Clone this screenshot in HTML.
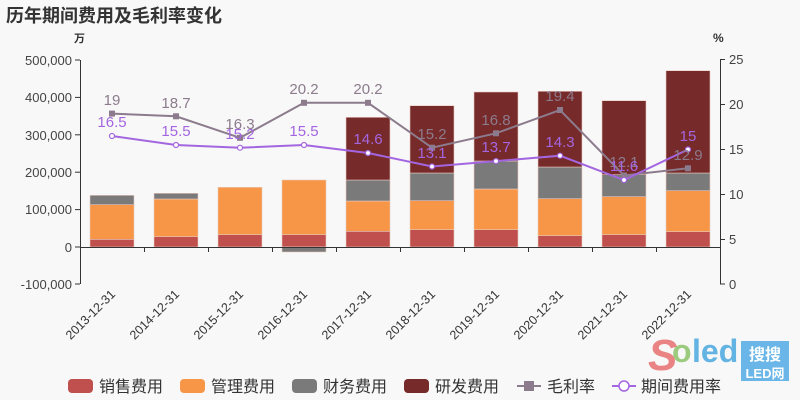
<!DOCTYPE html>
<html><head><meta charset="utf-8"><style>
html,body{margin:0;padding:0;background:#f8f8f8}
svg{display:block;font-family:"Liberation Sans","Noto Sans CJK SC",sans-serif}
</style></head><body>
<svg width="800" height="400" viewBox="0 0 800 400">
<rect width="800" height="400" fill="#f8f8f8"/>
<text x="6" y="22" font-size="18" font-weight="bold" fill="#333">历年期间费用及毛利率变化</text>
<text x="74" y="42" font-size="11" font-weight="bold" fill="#333">万</text>
<text x="713" y="42" font-size="12" font-weight="bold" fill="#333">%</text>
<!-- left axis -->
<g stroke="#333" stroke-width="1" fill="none">
<line x1="80.5" y1="60" x2="80.5" y2="284"/>
<line x1="75" y1="60" x2="80" y2="60"/><line x1="75" y1="97.4" x2="80" y2="97.4"/><line x1="75" y1="134.8" x2="80" y2="134.8"/><line x1="75" y1="172.2" x2="80" y2="172.2"/><line x1="75" y1="209.6" x2="80" y2="209.6"/><line x1="75" y1="247" x2="80" y2="247"/><line x1="75" y1="284" x2="80" y2="284"/>
<line x1="720.5" y1="59" x2="720.5" y2="284"/>
<line x1="720" y1="59.5" x2="725" y2="59.5"/><line x1="720" y1="104.5" x2="725" y2="104.5"/><line x1="720" y1="149.5" x2="725" y2="149.5"/><line x1="720" y1="194.5" x2="725" y2="194.5"/><line x1="720" y1="239.5" x2="725" y2="239.5"/><line x1="720" y1="284" x2="725" y2="284"/>
</g>
<g font-size="13" fill="#444" text-anchor="end">
<text x="72" y="65">500,000</text><text x="72" y="102">400,000</text><text x="72" y="140">300,000</text><text x="72" y="177">200,000</text><text x="72" y="214">100,000</text><text x="72" y="252">0</text><text x="72" y="289">-100,000</text>
</g>
<g font-size="13" fill="#444">
<text x="729" y="64">25</text><text x="729" y="109">20</text><text x="729" y="154">15</text><text x="729" y="199">10</text><text x="729" y="244">5</text><text x="729" y="289">0</text>
</g>
<!-- bars -->
<g stroke="#e8c8c0" stroke-width="0.6">
<!-- 1 -->
<rect x="90" y="239.3" width="44" height="7.7" fill="#c0504d"/><rect x="90" y="204.7" width="44" height="34.6" fill="#f79646"/><rect x="90" y="195.3" width="44" height="9.4" fill="#7a7a7a"/>
<rect x="154" y="236.7" width="44" height="10.3" fill="#c0504d"/><rect x="154" y="199" width="44" height="37.7" fill="#f79646"/><rect x="154" y="193.3" width="44" height="5.7" fill="#7a7a7a"/>
<rect x="218" y="234.7" width="44" height="12.3" fill="#c0504d"/><rect x="218" y="187.3" width="44" height="47.4" fill="#f79646"/>
<rect x="282" y="234.7" width="44" height="12.3" fill="#c0504d"/><rect x="282" y="180" width="44" height="54.7" fill="#f79646"/><rect x="282" y="247" width="44" height="5" fill="#7a7a7a"/>
<rect x="346" y="231.3" width="44" height="15.7" fill="#c0504d"/><rect x="346" y="201" width="44" height="30.3" fill="#f79646"/><rect x="346" y="180" width="44" height="21" fill="#7a7a7a"/><rect x="346" y="117.3" width="44" height="62.7" fill="#772a2a"/>
<rect x="410" y="229.7" width="44" height="17.3" fill="#c0504d"/><rect x="410" y="200.7" width="44" height="29" fill="#f79646"/><rect x="410" y="173" width="44" height="27.7" fill="#7a7a7a"/><rect x="410" y="105.7" width="44" height="67.3" fill="#772a2a"/>
<rect x="474" y="229.7" width="44" height="17.3" fill="#c0504d"/><rect x="474" y="189" width="44" height="40.7" fill="#f79646"/><rect x="474" y="161" width="44" height="28" fill="#7a7a7a"/><rect x="474" y="92" width="44" height="69" fill="#772a2a"/>
<rect x="538" y="235.7" width="44" height="11.3" fill="#c0504d"/><rect x="538" y="198.7" width="44" height="37" fill="#f79646"/><rect x="538" y="167" width="44" height="31.7" fill="#7a7a7a"/><rect x="538" y="91.3" width="44" height="75.7" fill="#772a2a"/>
<rect x="602" y="234.7" width="44" height="12.3" fill="#c0504d"/><rect x="602" y="196.7" width="44" height="38" fill="#f79646"/><rect x="602" y="174.7" width="44" height="22" fill="#7a7a7a"/><rect x="602" y="100.7" width="44" height="74" fill="#772a2a"/>
<rect x="666" y="231.7" width="44" height="15.3" fill="#c0504d"/><rect x="666" y="190.7" width="44" height="41" fill="#f79646"/><rect x="666" y="173" width="44" height="17.7" fill="#7a7a7a"/><rect x="666" y="70.7" width="44" height="102.3" fill="#772a2a"/>
</g>
<!-- zero line + ticks -->
<g stroke="#333" stroke-width="1">
<line x1="80" y1="247.5" x2="720" y2="247.5"/>
<line x1="144.5" y1="247" x2="144.5" y2="252"/><line x1="208.5" y1="247" x2="208.5" y2="252"/><line x1="272.5" y1="247" x2="272.5" y2="252"/><line x1="336.5" y1="247" x2="336.5" y2="252"/><line x1="400.5" y1="247" x2="400.5" y2="252"/><line x1="464.5" y1="247" x2="464.5" y2="252"/><line x1="528.5" y1="247" x2="528.5" y2="252"/><line x1="592.5" y1="247" x2="592.5" y2="252"/><line x1="656.5" y1="247" x2="656.5" y2="252"/>
</g>
<!-- lines -->
<polyline fill="none" stroke="#8c7b8c" stroke-width="2" points="112,113.6 176,116.3 240,137.8 304,102.8 368,102.8 432,147.7 496,133.3 560,110 624,175.5 688,168.3"/>
<g fill="#8c7b8c">
<rect x="109" y="110.6" width="6" height="6"/><rect x="173" y="113.3" width="6" height="6"/><rect x="237" y="134.8" width="6" height="6"/><rect x="301" y="99.8" width="6" height="6"/><rect x="365" y="99.8" width="6" height="6"/><rect x="429" y="144.7" width="6" height="6"/><rect x="493" y="130.3" width="6" height="6"/><rect x="557" y="107" width="6" height="6"/><rect x="621" y="172.5" width="6" height="6"/><rect x="685" y="165.3" width="6" height="6"/>
</g>
<polyline fill="none" stroke="#a366e0" stroke-width="2" points="112,136 176,145 240,147.7 304,145 368,153 432,166.5 496,161.1 560,155.7 624,180 688,149.5"/>
<g fill="#fff" stroke="#a366e0" stroke-width="1.2">
<circle cx="112" cy="136" r="2.5"/><circle cx="176" cy="145" r="2.5"/><circle cx="240" cy="147.7" r="2.5"/><circle cx="304" cy="145" r="2.5"/><circle cx="368" cy="153" r="2.5"/><circle cx="432" cy="166.5" r="2.5"/><circle cx="496" cy="161.1" r="2.5"/><circle cx="560" cy="155.7" r="2.5"/><circle cx="624" cy="180" r="2.5"/><circle cx="688" cy="149.5" r="2.5"/>
</g>
<g font-size="15" fill="#8c7b8c" text-anchor="middle">
<text x="112" y="105">19</text><text x="176" y="108">18.7</text><text x="240" y="129">16.3</text><text x="304" y="94">20.2</text><text x="368" y="94">20.2</text><text x="432" y="139">15.2</text><text x="496" y="125">16.8</text><text x="560" y="101">19.4</text><text x="624" y="167">12.1</text><text x="688" y="160">12.9</text>
</g>
<g font-size="15" fill="#a366e0" text-anchor="middle">
<text x="112" y="127">16.5</text><text x="176" y="136">15.5</text><text x="240" y="139">15.2</text><text x="304" y="136">15.5</text><text x="368" y="144">14.6</text><text x="432" y="158">13.1</text><text x="496" y="152">13.7</text><text x="560" y="147">14.3</text><text x="624" y="171">11.6</text><text x="688" y="141">15</text>
</g>
<!-- x labels -->
<g font-size="12.5" fill="#333" text-anchor="end">
<text transform="translate(116,295) rotate(-45)">2013-12-31</text>
<text transform="translate(180,295) rotate(-45)">2014-12-31</text>
<text transform="translate(244,295) rotate(-45)">2015-12-31</text>
<text transform="translate(308,295) rotate(-45)">2016-12-31</text>
<text transform="translate(372,295) rotate(-45)">2017-12-31</text>
<text transform="translate(436,295) rotate(-45)">2018-12-31</text>
<text transform="translate(500,295) rotate(-45)">2019-12-31</text>
<text transform="translate(564,295) rotate(-45)">2020-12-31</text>
<text transform="translate(628,295) rotate(-45)">2021-12-31</text>
<text transform="translate(692,295) rotate(-45)">2022-12-31</text>
</g>
<!-- watermark -->
<text x="648" y="370" font-size="44" font-weight="bold" font-style="italic" fill="#e87070" opacity="0.85">S</text>
<text x="672" y="362" font-size="32" font-weight="bold" fill="#8cc46a" opacity="0.85">o</text>
<text x="692" y="362" font-size="32" font-weight="bold" fill="#4aa8e0" opacity="0.85">led</text>
<rect x="741" y="341" width="48" height="40" fill="#5aaee6" opacity="0.9"/>
<text x="765" y="360" font-size="16" font-weight="bold" fill="#fff" text-anchor="middle">搜搜</text>
<text x="765" y="378" font-size="13" font-weight="bold" fill="#fff" text-anchor="middle">LED网</text>
<!-- legend -->
<g font-size="16" fill="#333">
<rect x="68" y="379" width="25" height="14" rx="4" fill="#c0504d"/><text x="99" y="392">销售费用</text>
<rect x="180" y="379" width="25" height="14" rx="4" fill="#f79646"/><text x="211" y="392">管理费用</text>
<rect x="292" y="379" width="25" height="14" rx="4" fill="#7a7a7a"/><text x="323" y="392">财务费用</text>
<rect x="404" y="379" width="25" height="14" rx="4" fill="#772a2a"/><text x="435" y="392">研发费用</text>
<line x1="517" y1="386" x2="541" y2="386" stroke="#8c7b8c" stroke-width="2"/><rect x="524" y="381" width="10" height="10" fill="#8c7b8c"/><text x="547" y="392">毛利率</text>
<line x1="612" y1="386" x2="636" y2="386" stroke="#a366e0" stroke-width="2"/><circle cx="624" cy="386" r="5" fill="#fff" stroke="#a366e0" stroke-width="1.5"/><text x="641" y="392">期间费用率</text>
</g>
</svg>
</body></html>
